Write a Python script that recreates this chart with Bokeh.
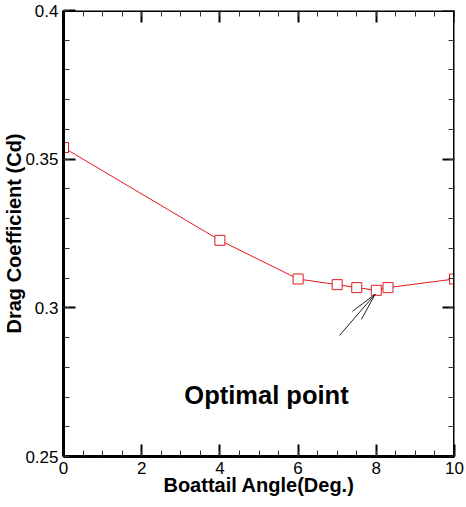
from bokeh.plotting import figure
from bokeh.models import (LinearAxis, FixedTicker, CustomJSTickFormatter, Label)
from bokeh.embed import file_html
from bokeh.resources import INLINE

# ---- data ----
angle = [0, 4, 6, 7, 7.5, 8, 8.3, 10]
cd = [0.3539, 0.3227, 0.3097, 0.3078, 0.3068, 0.3059, 0.3068, 0.3097]

x_ticks = [0, 2, 4, 6, 8, 10]
x_minor = [0.5 * i for i in range(21)]
y_ticks = [0.25, 0.3, 0.35, 0.4]
y_minor = [round(0.25 + 0.01 * i, 2) for i in range(16)]

# annotation arrow (tip -> tails) and text
arrow_tip_x, arrow_tip_y = 7.97, 0.3046
arrow_tail_x = [7.06, 7.39, 7.62]
arrow_tail_y = [0.2907, 0.2988, 0.2961]
note_text = "Optimal point"
note_x, note_y = 3.09, 0.2708

FONT = "Liberation Sans"
RED = "#e0191e"

p = figure(frame_width=391, frame_height=446, x_range=(0, 10), y_range=(0.25, 0.4),
           min_border_left=56, min_border_right=11, min_border_top=10,
           min_border_bottom=0, output_backend="svg", toolbar_location=None,
           title=None)
p.xgrid.visible = False
p.ygrid.visible = False
p.outline_line_color = None
p.background_fill_color = "white"
p.border_fill_color = "white"

fmt = CustomJSTickFormatter(code="return String(Math.round(tick*100)/100);")
blank = CustomJSTickFormatter(code="return '';")


def style_axis(ax, ticks, minor, show_labels):
    ax.ticker = FixedTicker(ticks=ticks, minor_ticks=minor)
    ax.axis_line_width = 3
    ax.axis_line_color = "black"
    ax.major_tick_in = 12
    ax.major_tick_out = 0
    ax.minor_tick_in = 6
    ax.minor_tick_out = 0
    ax.major_tick_line_width = 2
    ax.major_tick_line_color = "black"
    ax.minor_tick_line_width = 1
    ax.minor_tick_line_color = "#333333"
    if show_labels:
        ax.formatter = fmt
        ax.major_label_text_font = FONT
        ax.major_label_text_font_size = "17px"
        ax.major_label_text_color = "black"
    else:
        ax.formatter = blank
        ax.major_label_standoff = 0


style_axis(p.xaxis[0], x_ticks, x_minor, True)
style_axis(p.yaxis[0], y_ticks, y_minor, True)
p.xaxis[0].major_label_standoff = 5
p.yaxis[0].major_label_standoff = 5

for ax, lab in ((p.xaxis[0], "Boattail Angle(Deg.)"), (p.yaxis[0], "Drag Coefficient (Cd)")):
    ax.axis_label = lab
    ax.axis_label_text_font = FONT
    ax.axis_label_text_font_size = "20px"
    ax.axis_label_text_font_style = "bold"
    ax.axis_label_text_color = "black"
p.xaxis[0].axis_label_standoff = -3
p.yaxis[0].axis_label_standoff = -3

top = LinearAxis(fixed_location=0.4)
style_axis(top, x_ticks, x_minor, False)
p.add_layout(top, "above")
right = LinearAxis(fixed_location=10)
style_axis(right, y_ticks, y_minor, False)
p.add_layout(right, "right")

p.line(angle, cd, line_color=RED, line_width=1)
p.scatter(angle, cd, marker="square", size=10, line_color=RED, line_width=1,
          fill_color="white")

p.segment(x0=[arrow_tip_x] * 3, y0=[arrow_tip_y] * 3, x1=arrow_tail_x, y1=arrow_tail_y,
          line_color="#222222", line_width=1)

p.add_layout(Label(x=note_x, y=note_y, text=note_text, text_font=FONT,
                   text_font_size="25.5px", text_font_style="bold",
                   text_color="black", text_align="left",
                   text_baseline="alphabetic"))

open("out.html", "w").write(file_html(p, INLINE))
